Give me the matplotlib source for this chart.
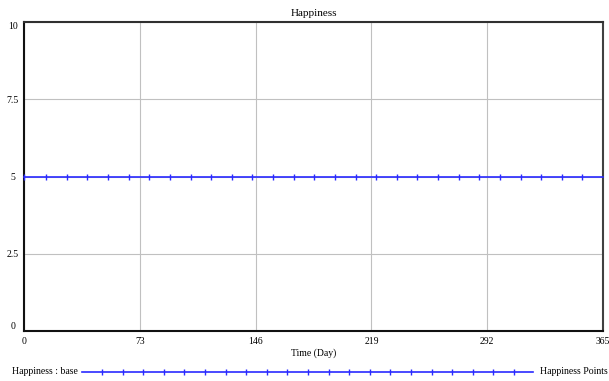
import matplotlib.pyplot as plt
import numpy as np
from matplotlib.lines import Line2D

# data: happiness stays constant over the simulated year
days = np.arange(0, 366)
happiness = np.full(len(days), 5.0)
x_ticks = [0, 73, 146, 219, 292, 365]
y_ticks = [0, 2.5, 5, 7.5, 10]
y_labels = ['0', '2.5', '5', '7.5', '10']

plt.rcParams['font.family'] = ['Liberation Serif', 'DejaVu Serif']
blue = '#2a2aff'

fig = plt.figure(figsize=(6.09, 3.81), dpi=100)
ax = fig.add_axes([24/609, 50/381, 579/609, 309/381])

marks = [0] + list(range(14, 353, 13))
ax.plot(days, happiness, color=blue, lw=1.2, marker='|', markersize=5,
        markeredgewidth=1.0, markevery=marks, clip_on=False, zorder=3)

ax.set_xlim(0, 365)
ax.set_ylim(0, 10)
ax.set_xticks(x_ticks)
ax.set_yticks(y_ticks)
ax.set_yticklabels(y_labels)
ax.grid(True, color='#c0c0c0', lw=0.8)
ax.tick_params(length=0, labelsize=7, pad=4)
ax.tick_params(axis='y', pad=8)
for lab in ax.get_yticklabels():
    lab.set_horizontalalignment('center')
ylabs = ax.get_yticklabels()
ylabs[0].set_verticalalignment('bottom')
ylabs[-1].set_verticalalignment('top')
for s in ax.spines.values():
    s.set_linewidth(1.5)
    s.set_color('#111111')
ax.spines['right'].set_color('#404040')
ax.spines['top'].set_color('#303030')

ax.set_xlabel('Time (Day)', fontsize=7, labelpad=2)
ax.set_title('Happiness', fontsize=8, pad=4)

# legend row below the chart
ly = 9/381
fig.text(12/609, ly, 'Happiness : base', fontsize=7, va='center', ha='left')
fig.text(608/609, ly, 'Happiness Points', fontsize=7, va='center', ha='right')
leg = Line2D([82/609, 533/609], [ly, ly], transform=fig.transFigure,
             color=blue, lw=1.2)
fig.add_artist(leg)
mx = np.arange(102, 520, 20.6) / 609
fig.add_artist(Line2D(mx, np.full(len(mx), ly), transform=fig.transFigure,
                      color=blue, lw=0, marker='|', markersize=5))

fig.savefig('out.png', dpi=100)
